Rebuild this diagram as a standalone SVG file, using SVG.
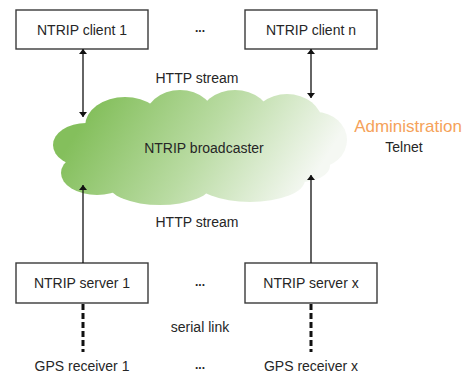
<svg xmlns="http://www.w3.org/2000/svg" width="467" height="376" viewBox="0 0 467 376">
<defs>
<linearGradient id="cg" gradientUnits="userSpaceOnUse" x1="100" y1="95" x2="290" y2="215">
<stop offset="0" stop-color="#84bf5c"/>
<stop offset="0.5" stop-color="#b9dba2"/>
<stop offset="1" stop-color="#f5f8f3"/>
</linearGradient>
<marker id="ah" viewBox="0 0 10 10" refX="10" refY="5" markerWidth="5" markerHeight="8" markerUnits="userSpaceOnUse" orient="auto-start-reverse" preserveAspectRatio="none">
<path d="M0,0 L10,5 L0,10 z" fill="#111"/>
</marker>
<style>
text{font-family:"Liberation Sans",Arial,sans-serif;font-size:14px;fill:#262626;text-anchor:middle}
.box{fill:#fff;stroke:#3a3a3a;stroke-width:1.4}
.arr{stroke:#111;stroke-width:1.3;fill:none}
.dash{stroke:#111;stroke-width:3;stroke-dasharray:6 3;fill:none}
.dots{font-weight:bold;font-size:12px}
</style>
</defs>
<rect width="467" height="376" fill="#fff"/>
<g id="broadcaster">
<g fill="url(#cg)">
<ellipse cx="200" cy="148" rx="130" ry="45"/>
<ellipse cx="125" cy="126" rx="40" ry="29"/>
<ellipse cx="180" cy="121" rx="36" ry="31"/>
<ellipse cx="235" cy="119" rx="36" ry="29"/>
<ellipse cx="287" cy="122" rx="35" ry="28"/>
<ellipse cx="316" cy="140" rx="31" ry="28"/>
<ellipse cx="86" cy="145" rx="33" ry="22"/>
<ellipse cx="97" cy="173" rx="36" ry="22"/>
<ellipse cx="160" cy="184" rx="52" ry="21"/>
<ellipse cx="250" cy="180" rx="55" ry="22"/>
<ellipse cx="300" cy="166" rx="30" ry="16"/>
</g>
<text x="204" y="153">NTRIP broadcaster</text>
</g>
<g id="admin">
<text x="408" y="132" style="font-size:17px;fill:#f5a25a">Administration</text>
<text x="404" y="152">Telnet</text>
</g>
<g id="client1"><rect class="box" x="16" y="10" width="132" height="39"/><text x="82" y="35">NTRIP client 1</text></g>
<g id="clientn"><rect class="box" x="245" y="10" width="132" height="39"/><text x="311" y="35">NTRIP client n</text></g>
<g id="server1"><rect class="box" x="16" y="263" width="132" height="40"/><text x="82" y="288">NTRIP server 1</text></g>
<g id="serverx"><rect class="box" x="245" y="263" width="132" height="40"/><text x="311" y="288">NTRIP server x</text></g>
<g id="gps1"><text x="82" y="371">GPS receiver 1</text></g>
<g id="gpsx"><text x="311" y="371">GPS receiver x</text></g>
<g id="connectors">
<line class="arr" x1="83" y1="49" x2="83" y2="117" marker-start="url(#ah)" marker-end="url(#ah)"/>
<line class="arr" x1="311" y1="49" x2="311" y2="98" marker-start="url(#ah)" marker-end="url(#ah)"/>
<line class="arr" x1="83" y1="263" x2="83" y2="185" marker-end="url(#ah)"/>
<line class="arr" x1="311" y1="263" x2="311" y2="175" marker-end="url(#ah)"/>
<line class="dash" x1="83" y1="304" x2="83" y2="352"/>
<line class="dash" x1="311" y1="304" x2="311" y2="352"/>
</g>
<g id="labels">
<text x="197" y="83">HTTP stream</text>
<text x="197" y="227">HTTP stream</text>
<text x="200" y="332">serial link</text>
<text class="dots" x="200" y="32">...</text>
<text class="dots" x="200" y="286">...</text>
<text class="dots" x="200" y="369">...</text>
</g>
</svg>
